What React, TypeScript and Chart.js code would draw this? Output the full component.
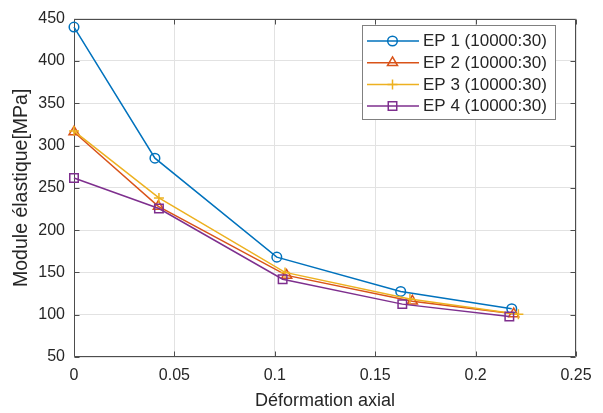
import React, { useEffect, useRef } from 'react';
import { Chart, registerables } from 'chart.js';
import { drawPoint } from 'chart.js/helpers';

Chart.register(...registerables);

const seriesNames = ['EP 1 (10000:30)', 'EP 2 (10000:30)', 'EP 3 (10000:30)', 'EP 4 (10000:30)'];
const seriesColors = ['#0072BD', '#D95319', '#EDB120', '#7E2F8E'];
const seriesMarkers = ['circle', 'triangle', 'cross', 'rect'];
const markerRadius = [4.8, 5.8, 5, 6];

const ep1X = [0, 0.0403, 0.101, 0.1627, 0.218];
const ep1Y = [440, 285, 168, 127.5, 107];
const ep2X = [0, 0.042, 0.1059, 0.1685, 0.219];
const ep2Y = [316, 228, 146.5, 116, 101];
const ep3X = [0, 0.0423, 0.1051, 0.1673, 0.2213];
const ep3Y = [317, 238, 150, 118.5, 100.5];
const ep4X = [0, 0.0423, 0.1039, 0.1635, 0.2168];
const ep4Y = [261.5, 225.5, 142, 112.5, 98];

const xTickLabels = ['0', '0.05', '0.1', '0.15', '0.2', '0.25'];
const yTickLabels = ['50', '100', '150', '200', '250', '300', '350', '400', '450'];

const xTitle = 'Déformation axial';
const yTitle = 'Module élastique[MPa]';

const FONT = "'Liberation Sans', Arial, sans-serif";
const TEXT = '#262626';

const allX = [ep1X, ep2X, ep3X, ep4X];
const allY = [ep1Y, ep2Y, ep3Y, ep4Y];

const framePlugin = {
  id: 'frame',
  beforeDatasetsDraw(chart: any) {
    const { ctx, chartArea: a, scales } = chart;
    ctx.save();
    ctx.strokeStyle = '#4d4d4d';
    ctx.lineWidth = 1;
    const L = Math.round(a.left) + 0.5, R = Math.round(a.right) - 0.5;
    const T = Math.round(a.top) + 0.5, B = Math.round(a.bottom) - 0.5;
    ctx.beginPath();
    ctx.rect(L, T, R - L, B - T);
    const tl = 5;
    scales.x.ticks.forEach((t: any) => {
      const px = Math.round(scales.x.getPixelForValue(t.value)) + 0.5;
      ctx.moveTo(px, B); ctx.lineTo(px, B - tl);
      ctx.moveTo(px, T); ctx.lineTo(px, T + tl);
    });
    scales.y.ticks.forEach((t: any) => {
      const py = Math.round(scales.y.getPixelForValue(t.value)) + 0.5;
      ctx.moveTo(L, py); ctx.lineTo(L + tl, py);
      ctx.moveTo(R, py); ctx.lineTo(R - tl, py);
    });
    ctx.stroke();
    ctx.restore();
  },
};

const legendPlugin = {
  id: 'matlabLegend',
  afterDraw(chart: any) {
    const ctx = chart.ctx;
    ctx.save();
    const x0 = 362.5, y0 = 25.5, w = 193, h = 94;
    ctx.fillStyle = '#ffffff';
    ctx.fillRect(x0, y0, w, h);
    ctx.strokeStyle = '#808080';
    ctx.lineWidth = 1;
    ctx.strokeRect(x0, y0, w, h);
    seriesNames.forEach((name, i) => {
      const cy = 41 + i * 21.7;
      ctx.strokeStyle = seriesColors[i];
      ctx.lineWidth = 1.5;
      ctx.beginPath();
      ctx.moveTo(367, cy);
      ctx.lineTo(419, cy);
      ctx.stroke();
      ctx.fillStyle = 'rgba(0,0,0,0)';
      drawPoint(ctx, { pointStyle: seriesMarkers[i], radius: markerRadius[i], rotation: 0, borderWidth: 1.5 } as any, 392.5, cy);
      ctx.fillStyle = TEXT;
      ctx.font = `17px ${FONT}`;
      ctx.textAlign = 'left';
      ctx.textBaseline = 'middle';
      ctx.fillText(name, 423, cy + 0.5);
    });
    ctx.restore();
  },
};

export default function App() {
  const ref = useRef<HTMLCanvasElement>(null);
  useEffect(() => {
    if (!ref.current) return;
    const chart = new Chart(ref.current, {
      type: 'line',
      data: {
        datasets: seriesNames.map((name, i) => ({
          label: name,
          data: allX[i].map((x, j) => ({ x, y: allY[i][j] })),
          borderColor: seriesColors[i],
          backgroundColor: 'rgba(0,0,0,0)',
          borderWidth: 1.5,
          pointStyle: seriesMarkers[i] as any,
          pointRadius: markerRadius[i],
          pointBorderWidth: 1.5,
          pointBorderColor: seriesColors[i],
          pointBackgroundColor: 'rgba(0,0,0,0)',
          tension: 0,
          clip: false as any,
          order: 3 - i,
        })),
      },
      options: {
        responsive: false,
        animation: false,
        devicePixelRatio: 1,
        layout: { padding: { top: 17, right: 27, left: 0, bottom: 0 }, autoPadding: false },
        plugins: { legend: { display: false }, tooltip: { enabled: false } },
        scales: {
          x: {
            type: 'linear',
            min: 0,
            max: 0.25,
            ticks: {
              stepSize: 0.05,
              padding: 9,
              color: TEXT,
              font: { family: FONT, size: 16 },
              maxRotation: 0,
              callback: (_v: any, i: number) => xTickLabels[i],
            },
            grid: { color: '#e2e2e2', drawTicks: false },
            border: { display: false },
            title: { display: true, text: xTitle, color: TEXT, font: { family: FONT, size: 18 }, padding: { top: 0, bottom: 1 } },
            afterFit: (s: any) => { s.height = 56; },
          },
          y: {
            type: 'linear',
            min: 50,
            max: 450,
            ticks: {
              stepSize: 50,
              padding: 9,
              color: TEXT,
              font: { family: FONT, size: 16 },
              callback: (_v: any, i: number) => yTickLabels[i],
            },
            grid: { color: '#e2e2e2', drawTicks: false },
            border: { display: false },
            title: { display: true, text: yTitle, color: TEXT, font: { family: FONT, size: 19.5 }, padding: { top: 10, bottom: 0 } },
            afterFit: (s: any) => { s.width = 74; },
          },
        },
      },
      plugins: [framePlugin, legendPlugin],
    } as any);
    return () => chart.destroy();
  }, []);
  return (
    <div style={{ position: 'absolute', left: 0, top: 0, width: 603, height: 413, background: '#fff' }}>
      <canvas ref={ref} width={603} height={413} style={{ width: 603, height: 413, display: 'block' }} />
    </div>
  );
}
